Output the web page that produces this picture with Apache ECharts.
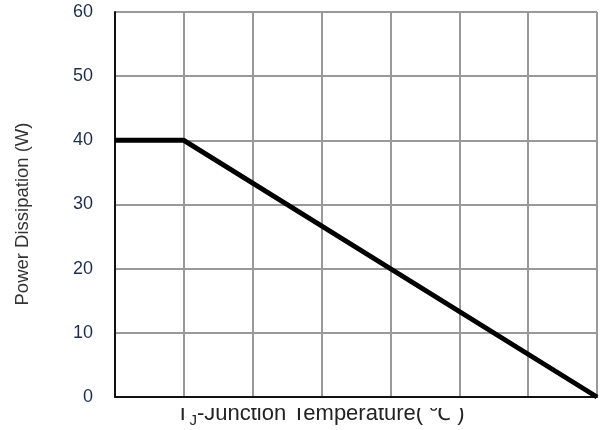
<!DOCTYPE html>
<html><head><meta charset="utf-8">
<script src="https://cdn.jsdelivr.net/npm/echarts@6/dist/echarts.min.js"></script>
<style>html,body{margin:0;padding:0;background:#fff}#c{width:600px;height:430px}</style>
</head><body><div id="c"></div>
<script>
const temps = [0, 25, 175];
const power = [40, 40, 0];
const yTicks = [0, 10, 20, 30, 40, 50, 60];
const yTitle = 'Power Dissipation (W)';
const xTitleMain = 'T';
const xTitleSub = 'J';
const xTitleRest = '-Junction Temperature( \u2103 )';

const chart = echarts.init(document.getElementById('c'), null, {renderer: 'canvas'});
chart.setOption({
  animation: false,
  backgroundColor: '#fff',
  grid: {left: 115, right: 3, top: 12, bottom: 33, containLabel: false, outerBoundsMode: 'none'},
  xAxis: {
    type: 'value', min: 0, max: 175, interval: 25,
    axisLine: {show: true, lineStyle: {color: '#111', width: 2}},
    axisTick: {show: false},
    axisLabel: {show: false},
    splitLine: {show: true, lineStyle: {color: '#999', width: 2}}
  },
  yAxis: {
    type: 'value', min: yTicks[0], max: yTicks[yTicks.length - 1], interval: 10,
    axisLine: {show: true, lineStyle: {color: '#111', width: 2}},
    axisTick: {show: false},
    axisLabel: {margin: 22, fontFamily: 'Liberation Sans', fontSize: 18, color: '#1f2d4d'},
    splitLine: {show: true, lineStyle: {color: '#999', width: 2}}
  },
  graphic: [
    {
      type: 'text', x: 23, y: 214, rotation: Math.PI / 2,
      style: {text: yTitle, font: '18.5px "Liberation Sans"', fill: '#333', align: 'center', verticalAlign: 'middle'}
    },
    {
      type: 'text', x: 176, y: 425,
      style: {
        text: '{a|' + xTitleMain + '}{s|' + xTitleSub + '}{a|' + xTitleRest + '}',
        fill: '#222', align: 'left', verticalAlign: 'bottom',
        rich: {
          a: {fontFamily: 'Liberation Sans', fontSize: 22, fill: '#222', verticalAlign: 'bottom'},
          s: {fontFamily: 'Liberation Sans', fontSize: 15, fill: '#222', verticalAlign: 'bottom', padding: [0, 0, -3, 0]}
        }
      }
    },
    {
      type: 'rect', shape: {x: 160, y: 399, width: 330, height: 9}, style: {fill: '#fff'}, z: 100
    }
  ],
  series: [{
    type: 'line',
    data: temps.map((t, i) => [t, power[i]]),
    symbol: 'none',
    lineStyle: {color: '#000', width: 5},
    clip: false,
    z: 10
  }]
});
</script></body></html>
